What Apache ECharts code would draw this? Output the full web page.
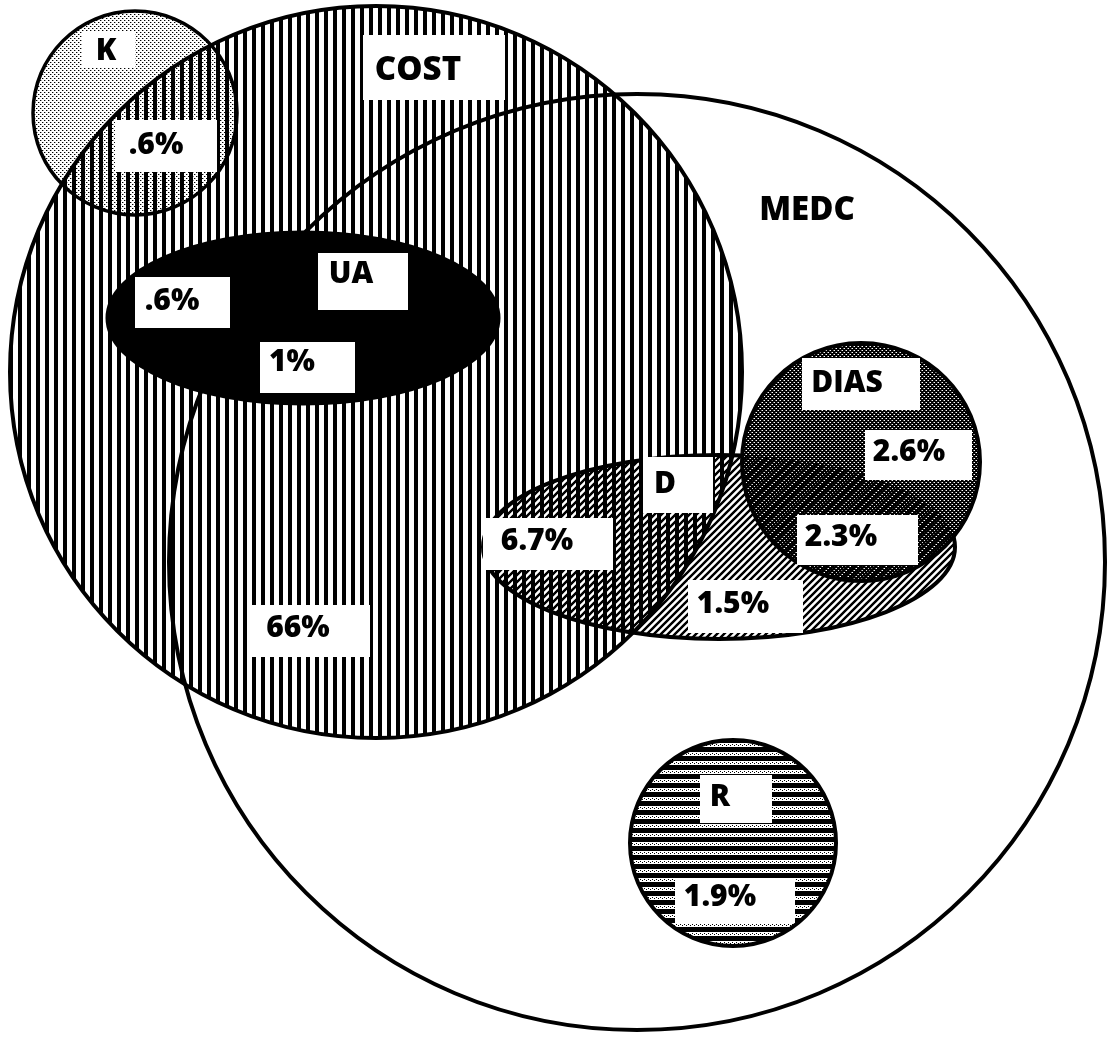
<!DOCTYPE html>
<html><head><meta charset="utf-8">
<script src="https://cdn.jsdelivr.net/npm/echarts/dist/echarts.min.js"></script>
<style>html,body{margin:0;padding:0;background:#fff}#c{width:1107px;height:1044px}</style>
</head><body><div id="c"></div>
<script>
// ---- data (in diagram units) ----
const setNames = ['MEDC', 'COST', 'K', 'UA', 'D', 'DIAS', 'R'];
const setCx    = [637, 376, 135, 303, 719, 861, 733];
const setCy    = [562, 372, 113, 318, 547, 462, 843];
const setRx    = [468, 366, 102, 196, 236, 119, 103];
const setRy    = [468, 366, 102,  86,  92, 119, 103];

const labelText = ['K', 'COST', '.6%', 'MEDC', '.6%', 'UA', '1%', 'DIAS', '2.6%', 'D', '6.7%', '2.3%', '1.5%', '66%', 'R', '1.9%'];
const labelX    = [106, 418, 156, 807, 172, 351, 292, 847, 909, 665, 537, 841, 733, 298, 720, 720];
const labelY    = [ 51,  71, 145, 211, 301, 274, 362, 383, 452, 484, 541, 537, 604, 628, 797, 897];
const boxLeft   = [ 82, 363, 115, null, 135, 318, 260, 802, 865, 643, 483, 797, 688, 252, 700, 675];
const boxTop    = [ 32,  35, 120, null, 277, 253, 342, 358, 430, 457, 518, 515, 580, 605, 775, 878];
const boxRight  = [135, 505, 217, null, 230, 408, 355, 920, 972, 713, 613, 918, 803, 370, 772, 795];
const boxBottom = [ 68, 100, 172, null, 328, 310, 393, 410, 480, 513, 570, 565, 633, 657, 823, 923];

// ---- patterns ----
function pat(w, h, draw) {
  const c = document.createElement('canvas');
  c.width = w; c.height = h;
  const g = c.getContext('2d');
  draw(g, w, h);
  return { image: c, repeat: 'repeat' };
}
const fillVertical = pat(9, 9, (g) => { g.fillStyle = '#000'; g.fillRect(0, 0, 4, 9); });
const fillDots = pat(4, 4, (g) => {
  g.fillStyle = '#000'; g.fillRect(0, 0, 1, 1); g.fillRect(2, 2, 1, 1);
  g.fillStyle = 'rgba(0,0,0,0.35)'; g.fillRect(1, 0, 1, 1); g.fillRect(3, 2, 1, 1);
});
const fillDiag = pat(7, 7, (g, w) => {
  g.strokeStyle = '#000'; g.lineWidth = 2.2;
  g.beginPath();
  g.moveTo(-1, w + 1); g.lineTo(w + 1, -1);
  g.moveTo(-1, 1); g.lineTo(1, -1);
  g.moveTo(w - 1, w + 1); g.lineTo(w + 1, w - 1);
  g.stroke();
});
const fillDark = pat(4, 4, (g) => {
  g.fillStyle = '#000'; g.fillRect(0, 0, 4, 4);
  g.fillStyle = '#fff'; g.fillRect(0, 0, 1, 1); g.fillRect(2, 2, 1, 1);
  g.fillStyle = '#777'; g.fillRect(3, 0, 1, 1); g.fillRect(1, 2, 1, 1);
});
const fillHoriz = pat(4, 9, (g) => {
  g.fillStyle = '#000'; g.fillRect(0, 0, 4, 5);
  g.fillRect(0, 6, 1, 1); g.fillRect(2, 7, 1, 1);
});
const setFills = ['#ffffff', fillVertical, fillDots, '#000000', fillDiag, fillDark, fillHoriz];
const setLineWidth = [4, 4, 3.5, 3, 4, 4, 4];

const shapeData = setNames.map((n, i) => [setCx[i], setCy[i], setRx[i], setRy[i]]);
const labelData = labelText.map((t, i) => [labelX[i], labelY[i]]);
const dIndex = setNames.indexOf('D');
const overlayData = [shapeData[dIndex]];

function ellipseShape(api) {
  const c = api.coord([api.value(0), api.value(1)]);
  const s = api.size([api.value(2), api.value(3)]);
  return { cx: c[0], cy: c[1], rx: s[0], ry: s[1] };
}

const chart = echarts.init(document.getElementById('c'), null, { renderer: 'canvas' });
chart.setOption({
  animation: false,
  backgroundColor: '#ffffff',
  grid: { left: 0, right: 0, top: 0, bottom: 0 },
  xAxis: { type: 'value', min: 0, max: 1107, show: false },
  yAxis: { type: 'value', min: 0, max: 1044, inverse: true, show: false },
  series: [
    { type: 'custom', coordinateSystem: 'cartesian2d', data: shapeData, z: 1, silent: true, clip: false,
      renderItem: (p, api) => {
        const sh = ellipseShape(api);
        return { type: 'group', children: [
          { type: 'ellipse', shape: sh, style: { fill: setFills[p.dataIndex], stroke: 'none' } },
          { type: 'ellipse', shape: sh, style: { fill: 'none', stroke: '#000', lineWidth: setLineWidth[p.dataIndex] } }
        ] };
      } },
    // D hatching seen again through the DIAS overlap
    { type: 'custom', coordinateSystem: 'cartesian2d', data: overlayData, z: 2, silent: true, clip: false,
      renderItem: (p, api) => ({ type: 'ellipse', shape: ellipseShape(api), style: { fill: fillDiag, stroke: 'none' } }) },
    { type: 'custom', coordinateSystem: 'cartesian2d', data: labelData, z: 3, silent: true, clip: false,
      renderItem: (p, api) => {
        const i = p.dataIndex;
        const c = api.coord([api.value(0), api.value(1)]);
        const children = [];
        if (boxLeft[i] !== null) {
          const a = api.coord([boxLeft[i], boxTop[i]]);
          const b = api.coord([boxRight[i], boxBottom[i]]);
          children.push({ type: 'rect', shape: { x: a[0], y: a[1], width: b[0] - a[0], height: b[1] - a[1] },
                          style: { fill: '#fff', stroke: 'none' } });
        }
        const big = (labelText[i] === 'MEDC' || labelText[i] === 'COST');
        children.push({ type: 'text', x: c[0], y: c[1],
          style: { text: labelText[i], fill: '#000',
                   font: '800 ' + (big ? 33 : 30) + 'px "Open Sans", "DejaVu Sans", sans-serif',
                   align: 'center', verticalAlign: 'middle' } });
        return { type: 'group', children: children };
      } }
  ]
});
</script>
</body></html>
